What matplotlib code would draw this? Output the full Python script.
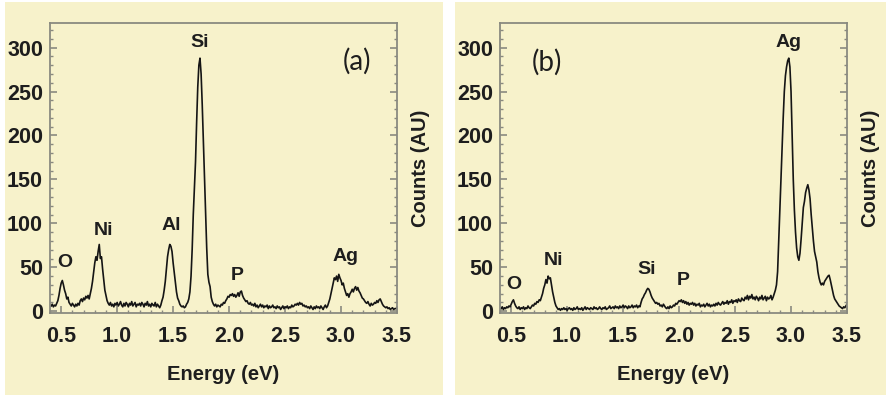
import numpy as np
import matplotlib
matplotlib.use("Agg")
import matplotlib.pyplot as plt
from matplotlib.ticker import MultipleLocator
from matplotlib.patches import Rectangle

# Energy grid of the spectra (eV), one sample every 0.01 eV
energy = np.round(np.arange(0.41, 3.505, 0.01), 2)

# Spectrum (a): counts per channel, rows of ten channels
counts_a = [
    6, 8, 5, 7, 6, 9, 12, 18, 26, 32,
    35, 30, 24, 20, 14, 16, 10, 8, 6, 9,
    7, 5, 8, 6, 9, 7, 12, 14, 11, 15,
    13, 17, 15, 18, 14, 20, 26, 34, 45, 55,
    62, 58, 68, 76, 60, 62, 48, 36, 24, 18,
    12, 9, 7, 10, 6, 8, 5, 9, 7, 10,
    6, 8, 11, 7, 5, 9, 6, 10, 8, 5,
    9, 7, 11, 6, 8, 10, 5, 8, 7, 9,
    6, 10, 8, 5, 9, 7, 11, 6, 8, 5,
    9, 7, 6, 10, 5, 8, 6, 4, 7, 12,
    16, 24, 34, 48, 62, 70, 76, 74, 68, 55,
    44, 32, 22, 15, 12, 8, 6, 5, 6, 4,
    5, 8, 10, 14, 22, 40, 70, 110, 140, 170,
    215, 255, 280, 288, 270, 235, 195, 158, 115, 72,
    42, 33, 28, 16, 11, 8, 6, 8, 5, 7,
    6, 5, 8, 7, 10, 9, 12, 14, 17, 16,
    19, 18, 20, 17, 19, 16, 18, 21, 17, 22,
    23, 18, 15, 13, 11, 12, 9, 8, 10, 7,
    8, 6, 9, 5, 7, 4, 6, 8, 5, 7,
    4, 6, 5, 7, 3, 6, 4, 5, 7, 4,
    5, 3, 6, 4, 5, 2, 4, 6, 3, 5,
    4, 6, 3, 5, 4, 7, 5, 6, 8, 7,
    9, 7, 10, 8, 9, 6, 7, 5, 6, 4,
    5, 3, 6, 4, 2, 5, 3, 6, 4, 5,
    3, 6, 4, 2, 5, 7, 4, 6, 10, 14,
    20, 26, 32, 38, 36, 40, 34, 42, 38, 35,
    30, 32, 26, 22, 18, 20, 16, 20, 22, 25,
    22, 26, 28, 24, 27, 23, 21, 18, 15, 14,
    12, 10, 9, 11, 8, 6, 9, 7, 8, 10,
    9, 12, 10, 13, 14, 11, 8, 6, 5, 4,
    5, 3, 4, 2, 3, 4, 2, 3, 3, 4,
]

# Spectrum (b)
counts_b = [
    3, 5, 2, 4, 3, 5, 4, 6, 5, 8,
    11, 13, 9, 6, 4, 3, 5, 2, 4, 3,
    5, 2, 4, 3, 6, 4, 3, 5, 7, 6,
    9, 8, 11, 10, 13, 12, 16, 20, 26, 30,
    36, 32, 40, 37, 38, 30, 22, 16, 10, 6,
    4, 2, 3, 1, 3, 2, 4, 2, 3, 1,
    3, 4, 2, 3, 1, 4, 2, 3, 5, 2,
    3, 2, 4, 1, 3, 5, 2, 4, 3, 2,
    4, 3, 2, 5, 3, 4, 2, 3, 5, 3,
    2, 4, 3, 5, 2, 3, 4, 6, 3, 4,
    5, 3, 6, 4, 5, 3, 6, 4, 5, 7,
    4, 6, 5, 3, 6, 4, 5, 7, 4, 6,
    5, 7, 4, 6, 5, 10, 14, 16, 19, 21,
    24, 26, 25, 22, 18, 15, 13, 11, 9, 10,
    8, 9, 6, 7, 5, 8, 6, 4, 3, 5,
    3, 6, 4, 5, 7, 6, 9, 8, 10, 12,
    11, 13, 10, 12, 9, 11, 8, 10, 7, 9,
    8, 10, 7, 9, 6, 8, 7, 9, 5, 7,
    6, 8, 5, 7, 9, 6, 8, 5, 7, 6,
    8, 6, 9, 7, 10, 8, 7, 9, 11, 8,
    10, 9, 12, 8, 11, 10, 13, 9, 12, 11,
    13, 10, 14, 12, 11, 15, 13, 12, 16, 14,
    18, 13, 17, 15, 19, 14, 16, 13, 17, 15,
    12, 16, 14, 18, 13, 15, 17, 12, 16, 14,
    15, 18, 13, 16, 20, 24, 30, 45, 80, 115,
    150, 185, 220, 250, 268, 278, 285, 288, 278, 250,
    200, 150, 115, 90, 72, 62, 58, 66, 82, 100,
    118, 125, 135, 140, 144, 138, 128, 110, 95, 80,
    68, 62, 56, 45, 38, 33, 30, 32, 30, 34,
    36, 38, 40, 41, 36, 30, 24, 18, 14, 12,
    10, 8, 6, 5, 4, 3, 5, 4, 6, 8,
]

# Element labels: (symbol, energy, height)
labels_a = [("O", 0.535, 56), ("Ni", 0.875, 92), ("Al", 1.48, 98),
            ("Si", 1.74, 306), ("P", 2.07, 41), ("Ag", 3.04, 62)]
labels_b = [("O", 0.525, 30), ("Ni", 0.875, 58), ("Si", 1.71, 47),
            ("P", 2.04, 35), ("Ag", 2.98, 306)]

x_ticks = [0.5, 1.0, 1.5, 2.0, 2.5, 3.0, 3.5]
y_ticks = [0, 50, 100, 150, 200, 250, 300]

W, H = 887, 397
cream = "#f7f2cb"
fig = plt.figure(figsize=(W / 100, H / 100), dpi=100, facecolor="white")

# cream panel backgrounds, kept behind the axes
for x0, w in ((5, 438), (455, 432)):
    fig.add_artist(Rectangle((x0 / W, 2 / H), w / W, 393 / H,
                             transform=fig.transFigure, facecolor=cream,
                             edgecolor="none", zorder=-10))

font = "Liberation Sans"
ink = "#1e1e1e"
tick_font = dict(fontfamily=font, fontweight="bold", fontsize=15.5, color=ink)


def panel(left, counts, labels, tag, tag_pos):
    ax = fig.add_axes([left / W, (H - 313) / H, 347 / W, 290 / H])
    ax.set_zorder(1)
    ax.set_facecolor(cream)
    ax.plot(energy, counts, color="#151515", lw=1.2)
    ax.set_xlim(0.40, 3.50)
    ax.set_ylim(-2, 328)
    ax.set_xticks(x_ticks)
    ax.set_yticks(y_ticks)
    ax.set_xticklabels([f"{v:.1f}" for v in x_ticks], **tick_font)
    ax.set_yticklabels([str(v) for v in y_ticks], **tick_font)
    ax.xaxis.set_minor_locator(MultipleLocator(0.1))
    ax.yaxis.set_minor_locator(MultipleLocator(10))
    for s in ax.spines.values():
        s.set_color("#8a8a80")
        s.set_linewidth(1.3)
    ax.tick_params(which="both", direction="in", color="#8a8a80",
                   top=False, right=True)
    ax.tick_params(which="major", length=5, width=1.2)
    ax.tick_params(which="minor", length=2.5, width=1.0)
    ax.tick_params(axis="x", pad=9)
    ax.tick_params(axis="y", pad=5)
    ax.set_xlabel("Energy (eV)", fontfamily=font, fontweight="bold",
                  fontsize=14.5, color=ink, labelpad=13)
    ax.yaxis.set_label_position("right")
    ax.set_ylabel("Counts (AU)", fontfamily=font, fontweight="bold",
                  fontsize=14.5, color=ink, labelpad=10)
    for sym, x, y in labels:
        ax.text(x, y, sym, ha="center", va="center", fontfamily=font,
                fontweight="bold", fontsize=14, color=ink)
    ax.text(tag_pos[0], tag_pos[1], tag, ha="center", va="center",
            fontfamily="Lato", fontsize=20, color=ink)
    return ax


panel(50, counts_a, labels_a, "(a)", (3.14, 284))
panel(500, counts_b, labels_b, "(b)", (0.82, 283))

fig.savefig("out.png", dpi=100, facecolor="white")
